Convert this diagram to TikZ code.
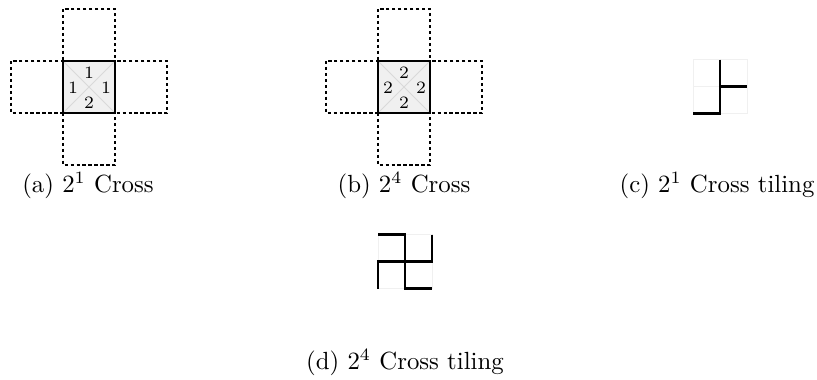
\documentclass[tikz,border=0pt]{standalone}
\tikzset{
  dbox/.style={draw=black, line width=0.8pt, dash pattern=on 1.3pt off 1.1pt},
  cfill/.style={fill=gray!12},
  cborder/.style={draw=black, line width=0.9pt},
  diag/.style={draw=gray!30, line width=0.4pt},
  num/.style={font=\scriptsize, inner sep=0pt},
  captext/.style={font=\normalsize, inner sep=0pt, anchor=base},
  gridln/.style={draw=gray!12, line width=0.4pt},
  tile/.style={draw=black, line width=0.9pt, line join=miter},
}
\begin{document}
\begin{tikzpicture}[x=0.403pt, y=-0.403pt]
\useasboundingbox (0,0) rectangle (817,379);

% (a) cross
\begin{scope}[shift={(89,87)}]
  \draw[dbox] (-26,-78) rectangle (26,-26);
  \draw[dbox] (-26,26) rectangle (26,78);
  \draw[dbox] (-78,-26) rectangle (-26,26);
  \draw[dbox] (26,-26) rectangle (78,26);
  \fill[cfill] (-26,-26) rectangle (26,26);
  \draw[diag] (-26,-26) -- (26,26) (-26,26) -- (26,-26);
  \draw[cborder] (-26,-26) rectangle (26,26);
  \node[num] (at) at (0,-14) {1};
  \node[num] (al) at (-16,1) {1};
  \node[num] (ar) at (17,1) {1};
  \node[num] (ab) at (0,16) {2};
\end{scope}

% (b) cross
\begin{scope}[shift={(404,87)}]
  \draw[dbox] (-26,-78) rectangle (26,-26);
  \draw[dbox] (-26,26) rectangle (26,78);
  \draw[dbox] (-78,-26) rectangle (-26,26);
  \draw[dbox] (26,-26) rectangle (78,26);
  \fill[cfill] (-26,-26) rectangle (26,26);
  \draw[diag] (-26,-26) -- (26,26) (-26,26) -- (26,-26);
  \draw[cborder] (-26,-26) rectangle (26,26);
  \node[num] (bt) at (0,-14) {2};
  \node[num] (bl) at (-16,1) {2};
  \node[num] (br) at (17,1) {2};
  \node[num] (bb) at (0,16) {2};
\end{scope}

% (c) tiling
\begin{scope}[shift={(720,86.5)}]
  \draw[gridln] (-27,-27) rectangle (27,27) (0,-27) -- (0,27) (-27,0) -- (27,0);
  \draw[tile] (0,-27) -- (0,27) -- (-27,27);
  \draw[tile] (0,0) -- (27,0);
\end{scope}

% (d) tiling
\begin{scope}[shift={(405,261.5)}]
  \draw[gridln] (-27,-27) rectangle (27,27) (0,-27) -- (0,27) (-27,0) -- (27,0);
  \draw[tile] (-27,-27) -- (0,-27) -- (0,27) -- (27,27);
  \draw[tile] (27,-27) -- (27,0) -- (-27,0) -- (-27,27);
\end{scope}

% captions
\node[captext] (capa) at (88,192) {(a) $2^1$ Cross};
\node[captext] (capb) at (404,192) {(b) $2^4$ Cross};
\node[captext] (capc) at (717,192) {(c) $2^1$ Cross tiling};
\node[captext] (capd) at (405,369) {(d) $2^4$ Cross tiling};
\end{tikzpicture}
\end{document}
